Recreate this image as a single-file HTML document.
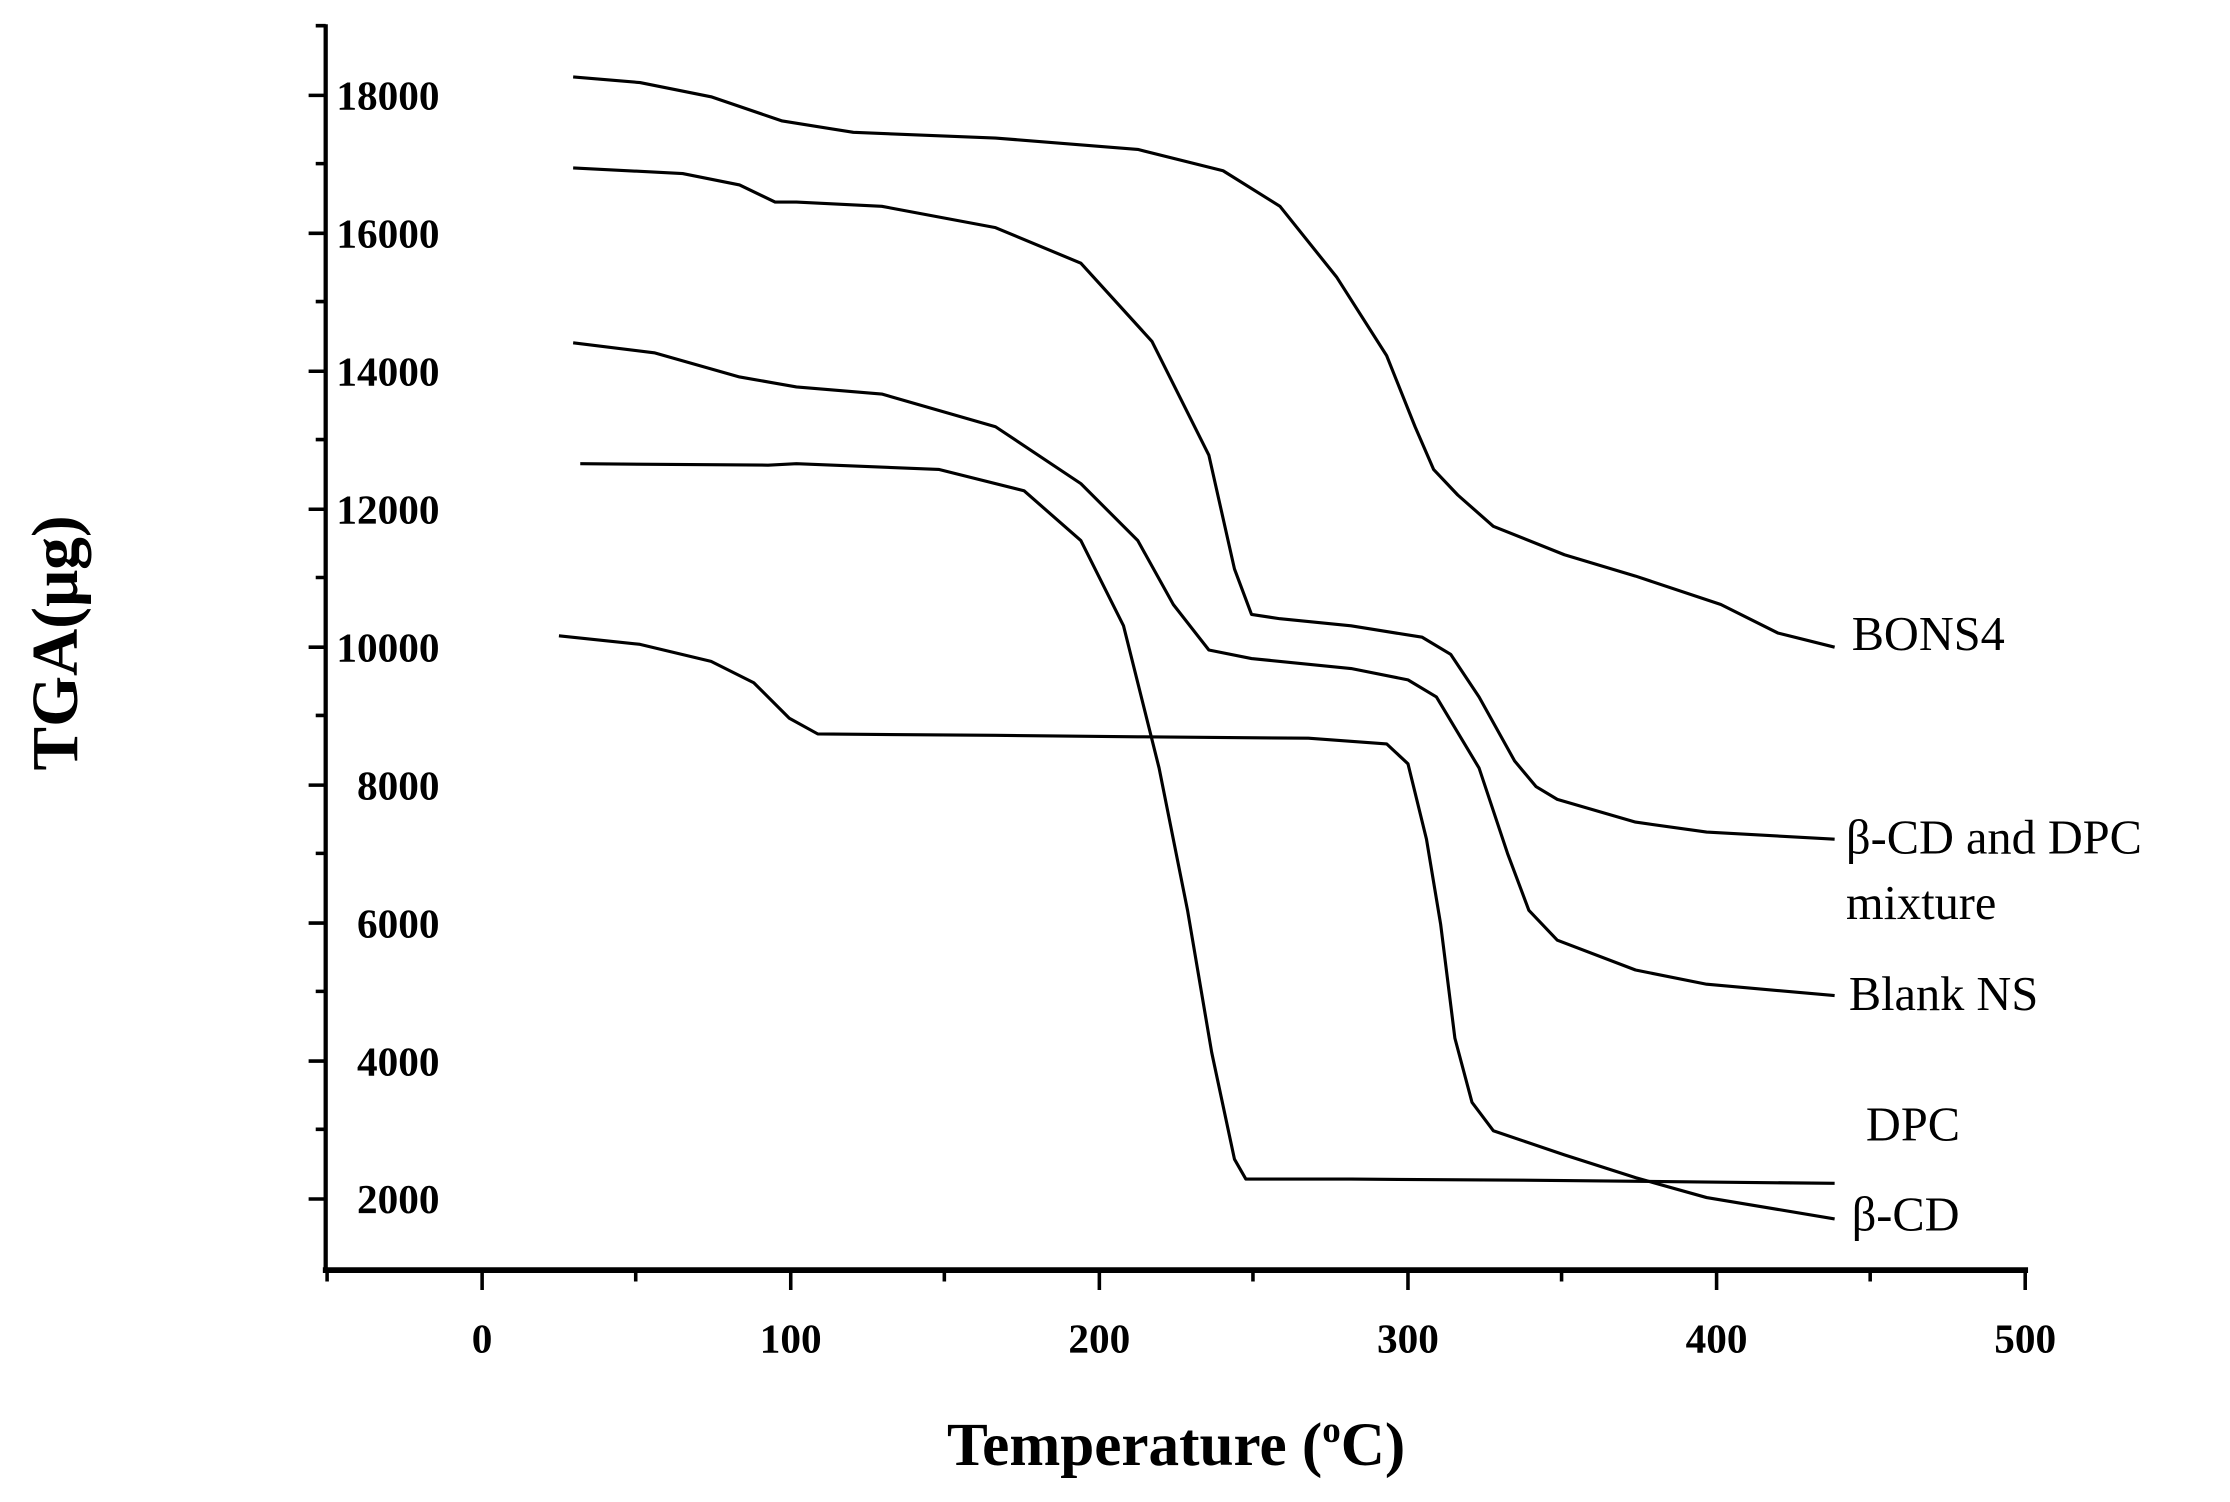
<!DOCTYPE html><html><head><style>body{margin:0;background:#fff}svg{display:block}</style></head><body>
<svg width="2230" height="1502" viewBox="0 0 1568 1056" xmlns="http://www.w3.org/2000/svg" font-family="Liberation Serif, serif">
<g stroke="#000" fill="none">
<line x1="229" y1="17" x2="229" y2="893" stroke-width="3"/>
<line x1="227" y1="893" x2="1426" y2="893" stroke-width="4"/>
<g stroke-width="2.5">
<path d="M229 67h-12M229 164h-12M229 261h-12M229 358h-12M229 455h-12M229 552h-12M229 649h-12M229 746h-12M229 843h-12"/>
<path d="M229 18h-7M229 115h-7M229 212h-7M229 309h-7M229 406h-7M229 503h-7M229 600h-7M229 697h-7M229 794h-7"/>
<path d="M339 893v14M556 893v14M773 893v14M990 893v14M1207 893v14M1424 893v14"/>
<path d="M230 893v8M447 893v8M664 893v8M881 893v8M1098 893v8M1315 893v8"/>
</g>
<g stroke-width="2.2" stroke-linejoin="round">
<polyline points="403,54 450,58 500,68 550,85 600,93 700,97 800,105 860,120 900,145 940,195 975,250 995,300 1008,330 1025,348 1050,370 1100,390 1150,405 1210,425 1250,445 1290,455"/>
<polyline points="403,118 480,122 520,130 545,142 560,142 620,145 700,160 760,185 810,240 850,320 868,400 880,432 900,435 950,440 1000,448 1020,460 1040,490 1065,535 1080,553 1095,562 1150,578 1200,585 1290,590"/>
<polyline points="403,241 460,248 520,265 560,272 620,277 700,300 760,340 800,380 825,425 850,457 880,463 950,470 990,478 1010,490 1040,540 1060,600 1075,640 1095,661 1150,682 1200,692 1290,700"/>
<polyline points="408,326 540,327 560,326 660,330 720,345 760,380 790,440 815,540 835,640 852,740 868,815 876,829 950,829 1100,830 1290,832"/>
<polyline points="393,447 450,453 500,465 530,480 555,505 575,516 700,517 800,518 920,519 975,523 990,537 1003,590 1013,650 1023,730 1035,775 1050,795 1100,812 1150,828 1200,842 1290,857"/>
</g>
</g>
<g font-size="29" font-weight="bold" text-anchor="end">
<text x="309" y="77">18000</text><text x="309" y="174">16000</text><text x="309" y="271">14000</text><text x="309" y="368">12000</text><text x="309" y="465">10000</text><text x="309" y="562">8000</text><text x="309" y="659">6000</text><text x="309" y="756">4000</text><text x="309" y="853">2000</text>
</g>
<g font-size="29" font-weight="bold" text-anchor="middle">
<text x="339" y="951">0</text><text x="556" y="951">100</text><text x="773" y="951">200</text><text x="990" y="951">300</text><text x="1207" y="951">400</text><text x="1424" y="951">500</text>
</g>
<text x="827" y="1030" font-size="43" font-weight="bold" text-anchor="middle">Temperature (<tspan font-size="26" dy="-16">o</tspan><tspan dy="16">C)</tspan></text>
<text transform="translate(54,452) rotate(-90)" font-size="46" font-weight="bold" text-anchor="middle">TGA(μg)</text>
<g font-size="34">
<text x="1302" y="457">BONS4</text>
<text x="1298" y="600">β-CD and DPC</text>
<text x="1298" y="646">mixture</text>
<text x="1300" y="710">Blank NS</text>
<text x="1312" y="802">DPC</text>
<text x="1302" y="865">β-CD</text>
</g>
</svg></body></html>
